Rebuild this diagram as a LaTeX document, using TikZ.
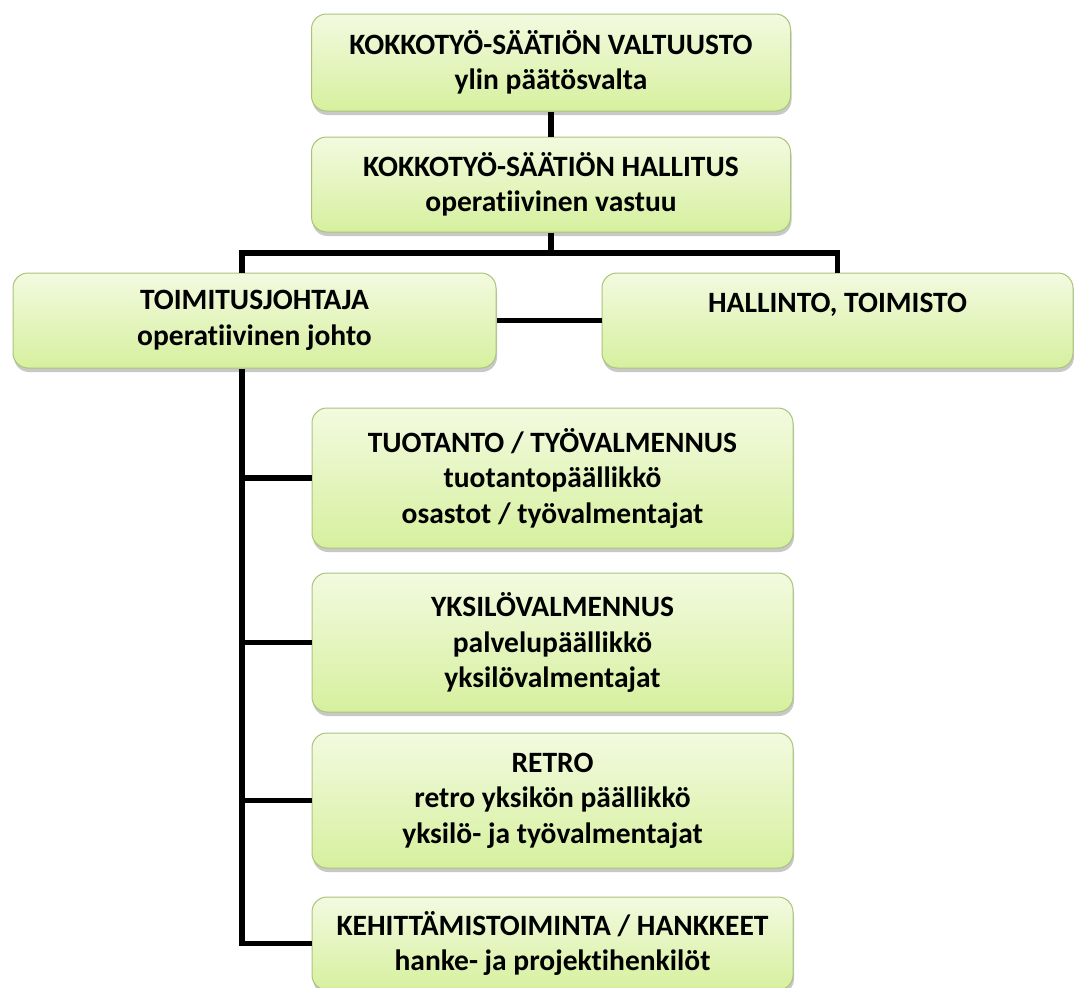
\documentclass[tikz,border=0pt]{standalone}
\usepackage{fontspec}
\setmainfont{Carlito}[Ligatures=NoCommon]
\usetikzlibrary{shadows}

\definecolor{boxtop}{RGB}{243,250,224}
\definecolor{boxbottom}{RGB}{214,240,158}
\definecolor{boxline}{RGB}{170,196,122}

\begin{document}
\begin{tikzpicture}[x=1pt,y=-1pt,
    orgbox/.style={draw=boxline,line width=1pt,rounded corners=15pt,
      top color=boxtop,bottom color=boxbottom,
      drop shadow={shadow xshift=1pt,shadow yshift=-4pt,opacity=.3,fill=black!70},
      inner sep=0pt,align=center,
      font=\bfseries\fontsize{29.5}{35.5}\selectfont},
    link/.style={line width=5.5pt,black}]
                \path[use as bounding box,fill=white] (0,0) rectangle (1074,988);
                % top of the chart
                \node[orgbox,minimum width=479pt,minimum height=97pt] (valtuusto) at (551,62.5) {KOKKOTYÖ-SÄÄTIÖN VALTUUSTO\\ylin päätösvalta};
                \node[orgbox,minimum width=479pt,minimum height=95pt] (hallitus) at (551,184.5) {KOKKOTYÖ-SÄÄTIÖN HALLITUS\\operatiivinen vastuu};
                \node[orgbox,minimum width=483pt,minimum height=95pt] (toimitus) at (254.5,320.5) {TOIMITUSJOHTAJA\\operatiivinen johto};
                \node[orgbox,minimum width=471pt,minimum height=95pt] (hallinto) at (837.5,320.5) {HALLINTO, TOIMISTO\\\mbox{}};
                % units under the managing director
                \node[orgbox,minimum width=481pt,minimum height=140pt] (tuotanto) at (552.5,478) {TUOTANTO / TYÖVALMENNUS\\tuotantopäällikkö\\osastot / työvalmentajat};
                \node[orgbox,minimum width=481pt,minimum height=139pt] (yksilo) at (552.5,642.5) {YKSILÖVALMENNUS\\palvelupäällikkö\\yksilövalmentajat};
                \node[orgbox,minimum width=481pt,minimum height=135pt] (retro) at (552.5,800.5) {RETRO\\retro yksikön päällikkö\\yksilö- ja työvalmentajat};
                \node[orgbox,minimum width=481pt,minimum height=93pt] (kehitys) at (552.5,943.5) {KEHITTÄMISTOIMINTA / HANKKEET\\hanke- ja projektihenkilöt};
                \coordinate (bus) at (551,253);
                \coordinate (spine) at (242,253);
                \draw[link] (valtuusto.south) -- (hallitus.north);
                \draw[link] (hallitus.south) -- (bus);
                \draw[link] (spine |- toimitus.north) -- (spine) -- (bus -| hallinto.north) -- (hallinto.north);
                \draw[link] (toimitus) -- (hallinto);
                \draw[link] (spine |- toimitus.south) |- (kehitys.west);
                \foreach \unit in {tuotanto,yksilo,retro}
                    \draw[link] (spine |- \unit.west) -- (\unit.west);
            \end{tikzpicture}
\end{document}
